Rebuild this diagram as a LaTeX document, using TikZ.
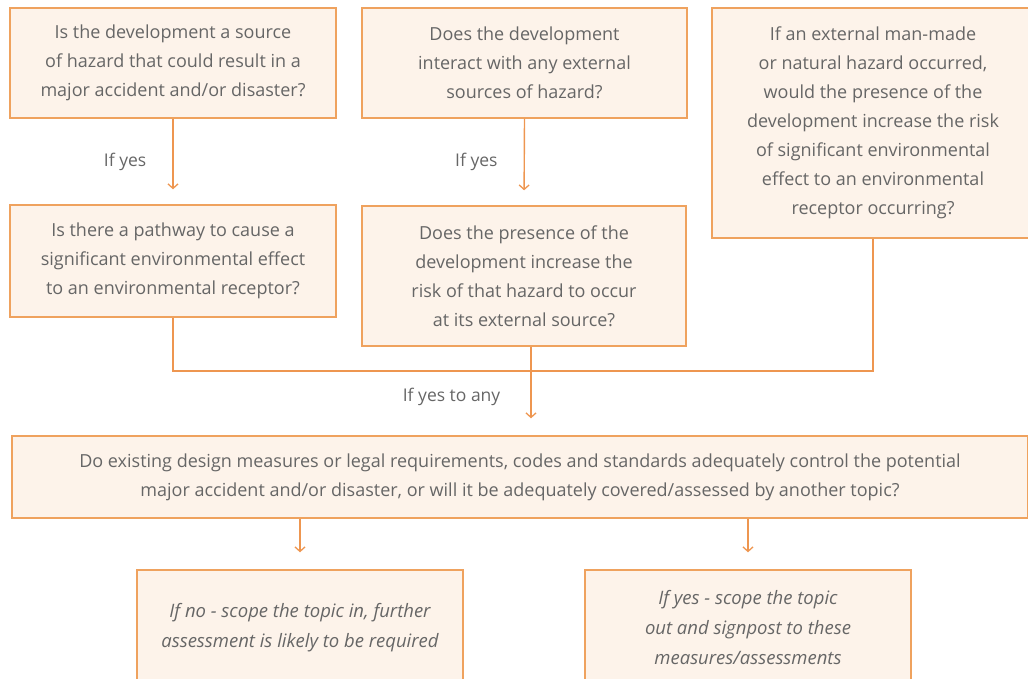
\documentclass[tikz,border=0pt]{standalone}
\usepackage{fontspec}
\setmainfont{Open Sans}
\usepackage{xcolor}
\usetikzlibrary{arrows.meta, positioning}
\definecolor{boxorange}{HTML}{EFA25E}
\definecolor{boxfill}{HTML}{FDF3EA}
\definecolor{linkorange}{HTML}{EE9650}
\definecolor{textgrey}{HTML}{666666}
\tikzset{
  % Riquadri delle domande
  qbox/.style={draw=boxorange,fill=boxfill,line width=1.4pt,align=center,
    text=textgrey,inner sep=0pt,font=\fontsize{18}{29}\selectfont},
  qend/.style={qbox,font=\fontsize{18.5}{30}\selectfont\itshape},
  % Collegamenti
  link/.style={linkorange,line width=1.4pt},
  link arrow/.style={link,-{Straight Barb[length=4.5pt,width=10pt,line width=1.3pt]}},
  tag/.style={text=textgrey,font=\fontsize{17.5}{19}\selectfont,inner sep=0pt}
}

\begin{document}
\begin{tikzpicture}[x=1pt,y=-1pt]
  \useasboundingbox (0,0) rectangle (1028,679);
  % domande in alto
  \node[qbox,minimum width=326,minimum height=110] (qa) at (173,63)
    {Is the development a source\\of hazard that could result in a\\major accident and/or disaster?};
  \node[qbox,minimum width=325,minimum height=110] (qb) at (524.5,63)
    {Does the development\\interact with any external\\sources of hazard?};
  \node[qbox,minimum width=322,minimum height=230] (qc) at (873,123)
    {If an external man-made\\or natural hazard occurred,\\would the presence of the\\development increase the risk\\of significant environmental\\effect to an environmental\\receptor occurring?};
  \node[qbox,minimum width=326,minimum height=112] (qd) at (173,261)
    {Is there a pathway to cause a\\significant environmental effect\\to an environmental receptor?};
  \node[qbox,minimum width=324,minimum height=140] (qe) at (524,276)
    {Does the presence of the\\development increase the\\risk of that hazard to occur\\at its external source?};
  % domanda comune
  \node[qbox,minimum width=1016,minimum height=82] (qf) at (520,477)
    {Do existing design measures or legal requirements, codes and standards adequately control the potential\\major accident and/or disaster, or will it be adequately covered/assessed by another topic?};
  % esiti
  \node[qend,minimum width=326,minimum height=116] (qno) at (300,628)
    {If no - scope the topic in, further\\assessment is likely to be required};
  \node[qend,minimum width=326,minimum height=116] (qyes) at (748,628)
    {If yes - scope the topic\\out and signpost to these\\measures/assessments};

  \coordinate (join) at (531,371);
  \draw[link arrow,shorten >=15pt] (qa.south) -- (qd.north)
    node[tag,midway,left=26pt] {If yes};
  \draw[link arrow,shorten >=15pt] (qb.south) -- (qe.north)
    node[tag,midway,left=26pt] {If yes};
  \draw[link] (qd.south) |- (join);
  \draw[link] (qc.south) |- (join);
  \draw[link arrow,shorten >=17pt] (qe.south -| join) -- (join |- qf.north)
    node[tag,pos=0.57,left=30pt] {If yes to any};
  \draw[link arrow,shorten >=17pt] (qno.north |- qf.south) -- (qno.north);
  \draw[link arrow,shorten >=17pt] (qyes.north |- qf.south) -- (qyes.north);
\end{tikzpicture}
\end{document}
